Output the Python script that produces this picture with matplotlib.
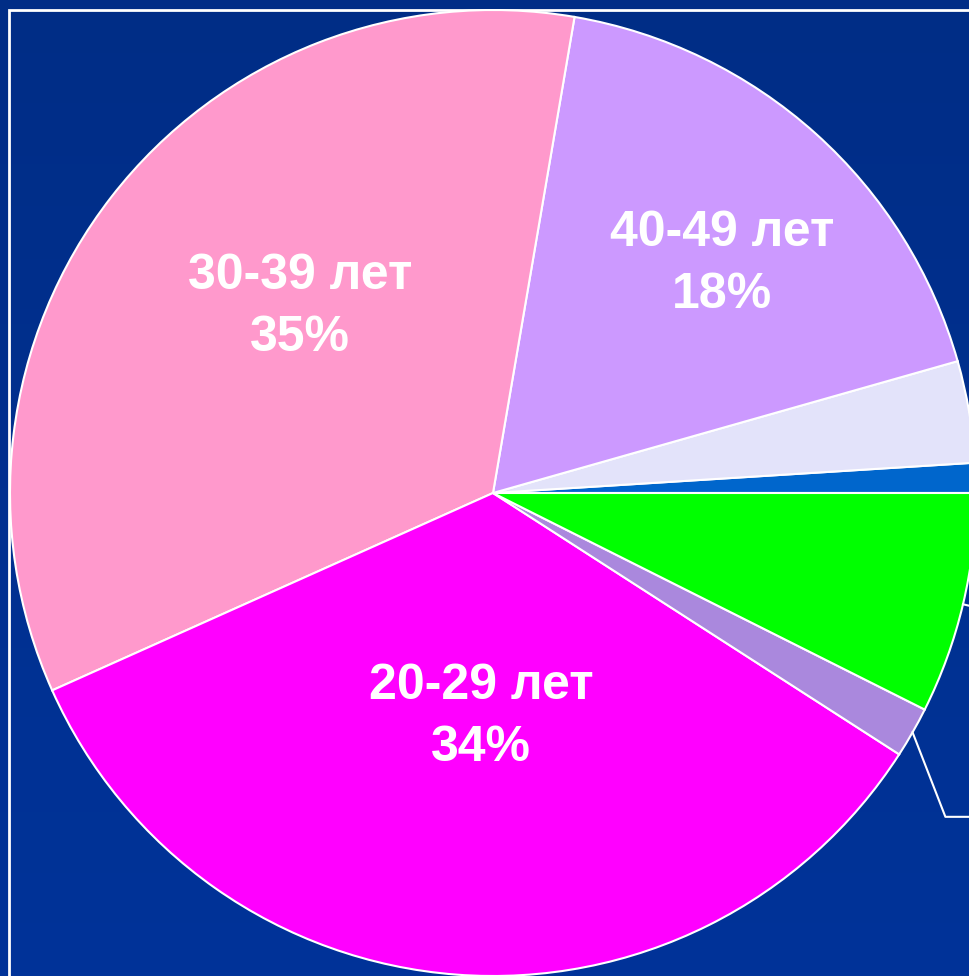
import numpy as np
import matplotlib.pyplot as plt
from matplotlib.patches import Rectangle
from matplotlib.colors import LinearSegmentedColormap

# age groups (counter-clockwise from 3 o'clock)
labels = ['до 20 лет', '60 лет и старше', '40-49 лет', '30-39 лет', '20-29 лет', '50-59 лет', 'прочие']
values = [1.0, 3.4, 17.9, 34.4, 34.2, 1.7, 7.4]
shown = ['', '', '40-49 лет\n18%', '30-39 лет\n35%', '20-29 лет\n34%', '', '']
colors = ['#0066CC', '#E3E3FA', '#CC99FF', '#FF99CC', '#FF00FF', '#AA88DD', '#00FF00']

W, H = 970, 976
cx, cy, R = 493, 483, 483   # pie centre / radius in pixels (y from bottom)
xl = (-cx / R, (W - cx) / R)
yl = (-cy / R, (H - cy) / R)

fig = plt.figure(figsize=(W / 100, H / 100), dpi=100)
ax = fig.add_axes([0, 0, 1, 1])

wedges, _ = ax.pie(values, colors=colors, startangle=0, counterclock=True,
                   radius=1, center=(0, 0),
                   wedgeprops=dict(edgecolor='white', linewidth=1.5))
for w in wedges:
    w.set_zorder(2)

# background gradient
grad = np.linspace(0, 1, 256).reshape(-1, 1)
bg = LinearSegmentedColormap.from_list('bg', ['#003399', '#002D86'])
ax.imshow(grad, cmap=bg, extent=[xl[0], xl[1], yl[0], yl[1]],
          origin='lower', aspect='auto', zorder=0)

# white frame
ax.add_patch(Rectangle(((9 - cx) / R, yl[0] - 0.1), 2.5, (H - 10) / R + 0.1,
                       fill=False, ec='white', lw=2, zorder=1))

# labels inside the big slices (radius, angle in degrees)
label_pos = {2: (0.67, 45), 3: (0.555, 136), 4: (0.464, 267)}
for i, t in enumerate(shown):
    if not t:
        continue
    r, a = label_pos[i]
    a = np.deg2rad(a)
    ax.text(r * np.cos(a), r * np.sin(a), t, ha='center', va='center',
            color='white', fontsize=36, fontweight='bold',
            family='Liberation Sans', linespacing=1.45, zorder=3)

# leader lines for the small slices (labels fall outside the picture)
for i in [1, 6]:
    w = wedges[i]
    mid = np.deg2rad((w.theta1 + w.theta2) / 2)
    ax.plot([np.cos(mid), 1.12 * np.cos(mid)], [np.sin(mid), 1.12 * np.sin(mid)],
            color='white', lw=1.5, zorder=3)
w = wedges[5]
mid = np.deg2rad((w.theta1 + w.theta2) / 2)
x0, y0 = np.cos(mid), np.sin(mid)
x1, y1 = x0 + 0.068, y0 - 0.175
ax.plot([x0, x1, 1.2], [y0, y1, y1], color='white', lw=1.5, zorder=3)

ax.set_xlim(*xl)
ax.set_ylim(*yl)
ax.set_aspect('auto')
ax.axis('off')

fig.savefig('out.png', dpi=100)
